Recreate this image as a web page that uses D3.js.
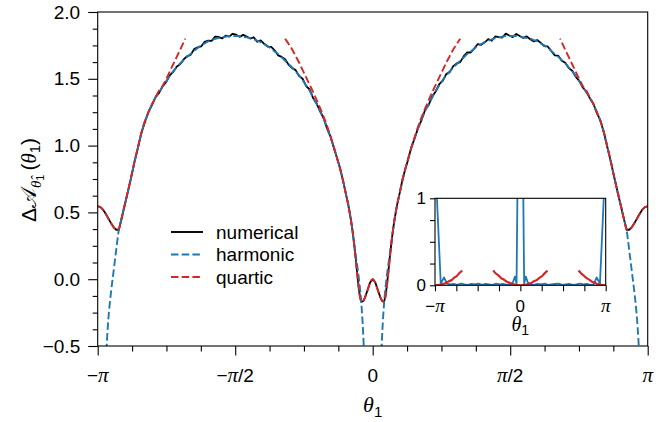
<!DOCTYPE html>
<html>
<head>
<meta charset="utf-8">
<title>Delta A theta</title>
<script src="https://cdn.jsdelivr.net/npm/d3@7"></script>
<style>
  body { margin: 0; background: #fff; }
  text { font-family: "Liberation Sans", Arial, sans-serif; fill: #000; }
  .m { font-family: "Liberation Serif", "DejaVu Serif", serif; font-style: italic; }
  .cal { font-family: "DejaVu Sans", "Noto Sans", serif; }
</style>
</head>
<body>
<svg id="chart" width="672" height="422"></svg>
<script>
// |theta| grid used by the main curves (radians)
var thetaAbs = [
  0, 0.03, 0.06, 0.09, 0.11, 0.13, 0.15, 0.17, 0.19, 0.21,
  0.23, 0.25, 0.28, 0.31, 0.34, 0.37, 0.40, 0.44, 0.48, 0.52,
  0.56, 0.60, 0.64, 0.68, 0.72, 0.76, 0.80, 0.84, 0.88, 0.92,
  0.96, 1.00, 1.04, 1.08, 1.12, 1.16, 1.20, 1.24, 1.28, 1.32,
  1.36, 1.40, 1.44, 1.48, 1.52, 1.56, 1.60, 1.64, 1.68, 1.72,
  1.76, 1.80, 1.84, 1.88, 1.92, 1.96, 2.00, 2.04, 2.08, 2.12,
  2.16, 2.20, 2.24, 2.28, 2.32, 2.36, 2.40, 2.44, 2.48, 2.52,
  2.56, 2.60, 2.64, 2.68, 2.72, 2.76, 2.80, 2.84, 2.87, 2.90,
  2.93, 2.96, 2.99, 3.02, 3.05, 3.08, 3.11, 3.1416];

// numerical, theta = +thetaAbs
var numRight = [
  0.00, -0.025, -0.085, -0.14, -0.165, -0.17, -0.11, 0.00, 0.13, 0.25,
  0.36, 0.45, 0.56, 0.65, 0.745, 0.82, 0.885, 0.985, 1.055, 1.135,
  1.195, 1.27, 1.305, 1.37, 1.405, 1.46, 1.485, 1.535, 1.55, 1.595,
  1.615, 1.625, 1.67, 1.697, 1.697, 1.727, 1.76, 1.754, 1.773, 1.797,
  1.785, 1.817, 1.812, 1.809, 1.838, 1.824, 1.812, 1.836, 1.821, 1.806,
  1.817, 1.796, 1.78, 1.79, 1.769, 1.744, 1.742, 1.708, 1.675, 1.673,
  1.635, 1.62, 1.58, 1.56, 1.515, 1.485, 1.435, 1.405, 1.355, 1.315,
  1.245, 1.19, 1.10, 0.99, 0.88, 0.76, 0.645, 0.535, 0.45, 0.37,
  0.37, 0.39, 0.42, 0.455, 0.49, 0.52, 0.54, 0.546];

// numerical, theta = -thetaAbs
var numLeft = [
  0.00, -0.025, -0.085, -0.14, -0.165, -0.17, -0.11, 0.00, 0.13, 0.25,
  0.36, 0.45, 0.56, 0.65, 0.74, 0.825, 0.89, 0.975, 1.065, 1.125,
  1.205, 1.255, 1.315, 1.355, 1.42, 1.445, 1.50, 1.52, 1.565, 1.58,
  1.604, 1.647, 1.664, 1.675, 1.713, 1.739, 1.741, 1.762, 1.788, 1.777,
  1.811, 1.801, 1.816, 1.829, 1.814, 1.83, 1.837, 1.816, 1.823, 1.802,
  1.813, 1.816, 1.784, 1.786, 1.777, 1.742, 1.736, 1.722, 1.679, 1.669,
  1.645, 1.61, 1.59, 1.55, 1.525, 1.475, 1.445, 1.395, 1.365, 1.305,
  1.255, 1.18, 1.10, 0.99, 0.88, 0.76, 0.645, 0.535, 0.45, 0.37,
  0.37, 0.39, 0.42, 0.455, 0.49, 0.52, 0.54, 0.546];

// harmonic approximation (even in theta), null = off the chart
var harmonic = [
  null, null, null, -0.70, -0.39, -0.18, -0.04, 0.07, 0.16, 0.26,
  0.36, 0.45, 0.56, 0.65, 0.74, 0.82, 0.89, 0.98, 1.06, 1.13,
  1.20, 1.26, 1.31, 1.36, 1.41, 1.45, 1.49, 1.525, 1.555, 1.585,
  1.61, 1.635, 1.66, 1.685, 1.705, 1.725, 1.745, 1.76, 1.775, 1.785,
  1.795, 1.805, 1.81, 1.815, 1.82, 1.82, 1.82, 1.82, 1.815, 1.81,
  1.805, 1.80, 1.79, 1.78, 1.765, 1.75, 1.73, 1.71, 1.685, 1.665,
  1.64, 1.615, 1.585, 1.555, 1.52, 1.48, 1.44, 1.40, 1.36, 1.31,
  1.25, 1.185, 1.10, 0.99, 0.88, 0.76, 0.645, 0.535, 0.45, 0.37,
  0.22, 0.06, -0.10, -0.30, -0.62, null, null, null];

// quartic approximation around 0 (first 32 points of thetaAbs, up to 1.0)
var quarticZero = [
  0.00, -0.025, -0.085, -0.14, -0.165, -0.165, -0.12, -0.01, 0.12, 0.25,
  0.36, 0.45, 0.56, 0.65, 0.74, 0.82, 0.89, 0.98, 1.065, 1.145,
  1.215, 1.28, 1.34, 1.40, 1.455, 1.51, 1.565, 1.62, 1.67, 1.72,
  1.76, 1.80];

// quartic approximation around +-pi, by distance from pi
var quarticPiDist = [0, 0.03, 0.06, 0.09, 0.12, 0.15, 0.18, 0.21, 0.24, 0.27,
  0.30, 0.34, 0.38, 0.42, 0.46, 0.50, 0.54, 0.58, 0.62, 0.66,
  0.70, 0.74, 0.78, 0.82, 0.86, 0.90, 0.94, 0.98, 1.00];
var quarticPi = [0.546, 0.54, 0.52, 0.49, 0.455, 0.42, 0.39, 0.37, 0.375, 0.445,
  0.535, 0.645, 0.76, 0.88, 0.99, 1.10, 1.185, 1.25, 1.31, 1.36,
  1.41, 1.445, 1.495, 1.55, 1.605, 1.66, 1.715, 1.77, 1.80];

// inset: error of the harmonic approximation
var insetTheta = [
  -3.1416, -2.93, -2.81, -2.70, -2.58, -2.45, -2.32, -2.19, -2.06, -1.93,
  -1.80, -1.67, -1.54, -1.41, -1.28, -1.15, -1.02, -0.89, -0.76, -0.63,
  -0.50, -0.38, -0.28, -0.20, -0.14, -0.09, 0.09, 0.14, 0.20, 0.28,
  0.38, 0.50, 0.63, 0.76, 0.89, 1.02, 1.15, 1.28, 1.41, 1.54,
  1.67, 1.80, 1.93, 2.06, 2.19, 2.32, 2.45, 2.58, 2.70, 2.81,
  2.93, 3.1416];
var insetHarmErr = [
  1.5, 0.02, 0.09, 0.02, 0.01, 0.015, 0.005, 0.02, 0.01, 0.005,
  0.015, 0.01, 0.02, 0.005, 0.015, 0.01, 0.005, 0.02, 0.01, 0.015,
  0.005, 0.01, 0.03, 0.10, 0.02, 1.6, 1.6, 0.02, 0.10, 0.03,
  0.01, 0.005, 0.015, 0.01, 0.02, 0.005, 0.01, 0.015, 0.02, 0.005,
  0.01, 0.015, 0.005, 0.01, 0.02, 0.01, 0.015, 0.005, 0.01, 0.09,
  0.02, 1.5];

// inset: error of the quartic approximation, by distance from 0 or pi
var insetQuartDist = [0, 0.1, 0.2, 0.3, 0.4, 0.5, 0.6, 0.7, 0.8, 0.9, 1.0];
var qErrNegPi = [0, 0.003, 0.006, 0.017, 0.025, 0.045, 0.058, 0.086, 0.106, 0.141, 0.17];
var qErrZeroL = [0, 0.001, 0.008, 0.014, 0.029, 0.041, 0.064, 0.081, 0.112, 0.135, 0.172];
var qErrZeroR = [0, 0.002, 0.005, 0.016, 0.026, 0.046, 0.059, 0.085, 0.107, 0.14, 0.168];
var qErrPi = [0, 0.001, 0.009, 0.013, 0.03, 0.04, 0.063, 0.082, 0.11, 0.136, 0.171];

var xTickLabels = ["−π", "−π/2", "0", "π/2", "π"];
var yTickValues = [-0.5, 0, 0.5, 1.0, 1.5, 2.0];
var insetXLabels = ["−π", "0", "π"];
var legendLabels = ["numerical", "harmonic", "quartic"];

var PI = Math.PI;
var BLUE = "#1f77b4", RED = "#d62728";

var svg = d3.select("#chart");

var x = d3.scaleLinear().domain([-PI, PI]).range([97.7, 647.7]);
var y = d3.scaleLinear().domain([-0.5, 2.0]).range([346, 12]);

// build series points
var numPts = [], harmPts = [];
for (var i = thetaAbs.length - 1; i > 0; i--) {
  numPts.push([-thetaAbs[i], numLeft[i]]);
  harmPts.push([-thetaAbs[i], harmonic[i]]);
}
for (var i = 0; i < thetaAbs.length; i++) {
  numPts.push([thetaAbs[i], numRight[i]]);
  harmPts.push([thetaAbs[i], harmonic[i]]);
}
var qZeroPts = [];
for (var i = 31; i > 0; i--) qZeroPts.push([-thetaAbs[i], quarticZero[i]]);
for (var i = 0; i <= 31; i++) qZeroPts.push([thetaAbs[i], quarticZero[i]]);
var qNegPiPts = quarticPiDist.map(function(d, i) { return [-PI + d, quarticPi[i]]; });
var qPiPts = quarticPiDist.map(function(d, i) { return [PI - d, quarticPi[i]]; });

svg.append("defs").append("clipPath").attr("id", "clipMain")
  .append("rect").attr("x", x(-PI)).attr("y", y(2.0))
  .attr("width", x(PI) - x(-PI)).attr("height", y(-0.5) - y(2.0));

var plot = svg.append("g").attr("clip-path", "url(#clipMain)");

var lineLin = d3.line()
  .defined(function(d) { return d[1] != null; })
  .x(function(d) { return x(d[0]); })
  .y(function(d) { return y(d[1]); });
var lineSmooth = d3.line()
  .defined(function(d) { return d[1] != null; })
  .curve(d3.curveMonotoneX)
  .x(function(d) { return x(d[0]); })
  .y(function(d) { return y(d[1]); });

plot.append("path").attr("d", lineLin(numPts))
  .attr("fill", "none").attr("stroke", "#000").attr("stroke-width", 1.8)
  .attr("stroke-linejoin", "round");
plot.append("path").attr("d", lineSmooth(harmPts))
  .attr("fill", "none").attr("stroke", BLUE).attr("stroke-width", 1.9)
  .attr("stroke-dasharray", "7.5,3.2");
[qNegPiPts, qZeroPts, qPiPts].forEach(function(pts) {
  plot.append("path").attr("d", lineSmooth(pts))
    .attr("fill", "none").attr("stroke", RED).attr("stroke-width", 1.9)
    .attr("stroke-dasharray", "7.5,3.2");
});

// frame
svg.append("rect").attr("x", x(-PI)).attr("y", y(2.0))
  .attr("width", x(PI) - x(-PI)).attr("height", y(-0.5) - y(2.0))
  .attr("fill", "none").attr("stroke", "#000").attr("stroke-width", 1.1);

// ticks
var xMajor = [-PI, -PI / 2, 0, PI / 2, PI];
var xMinor = d3.range(-8, 9).filter(function(k) { return k % 4 != 0; })
  .map(function(k) { return k * PI / 8; });
var yMinor = d3.range(-4, 17).filter(function(k) { return k % 4 != 0; })
  .map(function(k) { return k * 0.125; });

function tickOnly(g) { g.select(".domain").remove(); g.selectAll("line").attr("stroke-width", 1.1); }

svg.append("g").attr("transform", "translate(0," + y(-0.5) + ")")
  .call(d3.axisBottom(x).tickValues(xMajor).tickSize(9.5).tickFormat("").tickSizeOuter(0))
  .call(tickOnly);
svg.append("g").attr("transform", "translate(0," + y(-0.5) + ")")
  .call(d3.axisBottom(x).tickValues(xMinor).tickSize(5.5).tickFormat("").tickSizeOuter(0))
  .call(tickOnly);
svg.append("g").attr("transform", "translate(" + x(-PI) + ",0)")
  .call(d3.axisLeft(y).tickValues(yTickValues).tickSize(9.5).tickPadding(8)
    .tickFormat(d3.format(".1f")).tickSizeOuter(0))
  .call(tickOnly)
  .call(function(g) {
    g.attr("font-family", null).attr("font-size", null);
    g.selectAll("text").style("font-size", "19px");
  });
svg.append("g").attr("transform", "translate(" + x(-PI) + ",0)")
  .call(d3.axisLeft(y).tickValues(yMinor).tickSize(5).tickFormat("").tickSizeOuter(0))
  .call(tickOnly);

// label with italic serif pi / theta
function mathLabel(sel, str, size) {
  str.split(/(π)/).forEach(function(part) {
    if (!part) return;
    var t = sel.append("tspan").text(part);
    if (part === "π") t.attr("class", "m").style("font-size", (size + 2) + "px");
  });
}

xMajor.forEach(function(v, i) {
  var t = svg.append("text").attr("x", x(v)).attr("y", 382)
    .attr("text-anchor", "middle").style("font-size", "19px");
  mathLabel(t, xTickLabels[i], 19);
});

// axis labels
var xl = svg.append("text").attr("x", x(0)).attr("y", 412)
  .attr("text-anchor", "middle").style("font-size", "22px");
xl.append("tspan").attr("class", "m").text("θ");
xl.append("tspan").attr("dy", 5).style("font-size", "15px").text("1");

var yl = svg.append("text").attr("transform", "translate(36,180) rotate(-90)")
  .attr("text-anchor", "middle").style("font-size", "21px");
yl.append("tspan").text("Δ");
yl.append("tspan").attr("class", "cal").text("𝒜");
yl.append("tspan").attr("class", "m").attr("dy", 5).style("font-size", "15px").text("θ̂");
yl.append("tspan").attr("dy", 3).style("font-size", "11px").text("1");
yl.append("tspan").attr("dy", -8).attr("dx", 4).text("(");
yl.append("tspan").attr("class", "m").text("θ");
yl.append("tspan").attr("dy", 4).style("font-size", "15px").text("1");
yl.append("tspan").attr("dy", -4).text(")");

// legend
var legendStyle = [
  { color: "#000", dash: null },
  { color: BLUE, dash: "7.5,3.2" },
  { color: RED, dash: "7.5,3.2" }];
var legend = svg.append("g");
legendLabels.forEach(function(lab, i) {
  var ly = 232 + i * 22.5;
  legend.append("line").attr("x1", 171).attr("x2", 203).attr("y1", ly).attr("y2", ly)
    .attr("stroke", legendStyle[i].color).attr("stroke-width", 1.9)
    .attr("stroke-dasharray", legendStyle[i].dash);
  legend.append("text").attr("x", 216).attr("y", ly + 6.5).style("font-size", "19px").text(lab);
});

// ---- inset ----
var xi = d3.scaleLinear().domain([-PI, PI]).range([435, 605.7]);
var yi = d3.scaleLinear().domain([0, 1]).range([285.3, 198.3]);

svg.append("rect").attr("x", xi(-PI)).attr("y", yi(1))
  .attr("width", xi(PI) - xi(-PI)).attr("height", yi(0) - yi(1)).attr("fill", "#fff");

svg.select("defs").append("clipPath").attr("id", "clipInset")
  .append("rect").attr("x", xi(-PI)).attr("y", yi(1))
  .attr("width", xi(PI) - xi(-PI)).attr("height", yi(0) - yi(1));
var inset = svg.append("g").attr("clip-path", "url(#clipInset)");

var lineInset = d3.line()
  .x(function(d) { return xi(d[0]); })
  .y(function(d) { return yi(d[1]); });

inset.append("path").attr("d", lineInset(d3.zip(insetTheta, insetHarmErr)))
  .attr("fill", "none").attr("stroke", BLUE).attr("stroke-width", 1.8)
  .attr("stroke-linejoin", "round");

var qSegs = [
  insetQuartDist.map(function(d, i) { return [-PI + d, qErrNegPi[i]]; }),
  insetQuartDist.map(function(d, i) { return [-d, qErrZeroL[i]]; }),
  insetQuartDist.map(function(d, i) { return [d, qErrZeroR[i]]; }),
  insetQuartDist.map(function(d, i) { return [PI - d, qErrPi[i]]; })];
qSegs.forEach(function(seg) {
  inset.append("path").attr("d", lineInset.curve(d3.curveMonotoneX)(seg.sort(function(a, b) { return a[0] - b[0]; })))
    .attr("fill", "none").attr("stroke", RED).attr("stroke-width", 2.2);
});

svg.append("rect").attr("x", xi(-PI)).attr("y", yi(1))
  .attr("width", xi(PI) - xi(-PI)).attr("height", yi(0) - yi(1))
  .attr("fill", "none").attr("stroke", "#000").attr("stroke-width", 1.1);

var xiTicks = d3.range(-4, 5).map(function(k) { return k * PI / 4; });
svg.append("g").attr("transform", "translate(0," + yi(0) + ")")
  .call(d3.axisBottom(xi).tickValues(xiTicks).tickSize(6).tickFormat("").tickSizeOuter(0))
  .call(tickOnly);
svg.append("g").attr("transform", "translate(" + xi(-PI) + ",0)")
  .call(d3.axisLeft(yi).tickValues([0, 0.25, 0.5, 0.75, 1]).tickSize(5)
    .tickFormat(function(d) { return d === 0 || d === 1 ? d3.format("d")(d) : ""; })
    .tickPadding(4).tickSizeOuter(0))
  .call(tickOnly)
  .call(function(g) {
    g.attr("font-family", null).attr("font-size", null);
    g.selectAll("text").style("font-size", "17px");
  });

[-PI, 0, PI].forEach(function(v, i) {
  var t = svg.append("text").attr("x", xi(v)).attr("y", 312)
    .attr("text-anchor", "middle").style("font-size", "17px");
  mathLabel(t, insetXLabels[i], 17);
});
var xil = svg.append("text").attr("x", xi(0)).attr("y", 331)
  .attr("text-anchor", "middle").style("font-size", "20px");
xil.append("tspan").attr("class", "m").text("θ");
xil.append("tspan").attr("dy", 4).style("font-size", "14px").text("1");
</script>
</body>
</html>
